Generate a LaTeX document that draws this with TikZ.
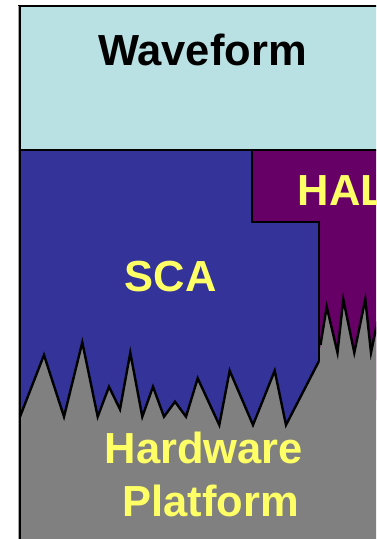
\documentclass[tikz,border=0pt]{standalone}
\usepackage{fontspec}
\setmainfont{Liberation Sans}
\definecolor{wavecol}{RGB}{185,224,227}
\definecolor{scacol}{RGB}{51,51,153}
\definecolor{halcol}{RGB}{102,0,102}
\definecolor{hwcol}{RGB}{128,128,128}
\definecolor{txtyellow}{RGB}{255,255,102}
\tikzset{
  edge/.style={draw=black, line width=2.4pt, line join=miter},
  lbl/.style={font=\fontsize{43.5}{53}\selectfont\bfseries, inner sep=0pt},
}
\begin{document}
\begin{tikzpicture}[x=1pt,y=-1pt]
\useasboundingbox (0,0) rectangle (376,539);
\clip (0,0) rectangle (376,539);
% waveform
\fill[wavecol] (20,6) rectangle (400,150);
% SCA and HAL
\fill[scacol] (20,150) rectangle (319,430);
\fill[halcol] (252,150) -- (400,150) -- (400,400) -- (319,400) -- (319,222) -- (252,222) -- cycle;
% hardware
\fill[hwcol] (20,416.7) -- (44,355) -- (64,416.7) -- (82.3,342.3) -- (97.7,416.7) -- (109,386.7) -- (120,409.3) -- (130.3,352.7) -- (142.3,416.7) -- (153,386.7) -- (164,416.7) -- (175,401.7) -- (186,416.7) -- (197.7,378.3) -- (219.3,425) -- (229.7,370.7) -- (253,425) -- (274.7,370.7) -- (286,425) -- (319,361) -- (320.5,345) -- (326.7,306.7) -- (337.5,352.7) -- (343.3,299.3) -- (354.3,352.7) -- (365.3,299.3) -- (371,352.7) -- (382,299.3) -- (400,380) -- (400,539) -- (20,539) -- cycle;
% outlines
\draw[edge] (18,6) -- (400,6);
\draw[edge] (20,150) -- (400,150);
\draw[edge] (252,150) -- (252,222) -- (319,222) -- (319,361);
\draw[edge] (20,416.7) -- (44,355) -- (64,416.7) -- (82.3,342.3) -- (97.7,416.7) -- (109,386.7) -- (120,409.3) -- (130.3,352.7) -- (142.3,416.7) -- (153,386.7) -- (164,416.7) -- (175,401.7) -- (186,416.7) -- (197.7,378.3) -- (219.3,425) -- (229.7,370.7) -- (253,425) -- (274.7,370.7) -- (286,425) -- (319,361);
\draw[edge] (320.5,345) -- (326.7,306.7) -- (337.5,352.7) -- (343.3,299.3) -- (354.3,352.7) -- (365.3,299.3) -- (371,352.7) -- (382,299.3);
\draw[draw=black!35, line width=0.8pt] (18,6) -- (18,539);
\draw[edge] (20,6) -- (20,539);
% labels
\node[lbl, anchor=base, text=black] (wave) at (202.5,65) {Waveform};
\node[lbl, anchor=base, text=txtyellow] (sca) at (170.5,291.7) {SCA};
\node[lbl, anchor=base west, text=txtyellow] (hal) at (297.5,205) {HAL};
\node[lbl, anchor=base, text=txtyellow] (hw1) at (204,463.3) {Hardware};
\node[lbl, anchor=base, text=txtyellow] (hw2) at (210.8,516.7) {Platform};
\end{tikzpicture}
\end{document}
